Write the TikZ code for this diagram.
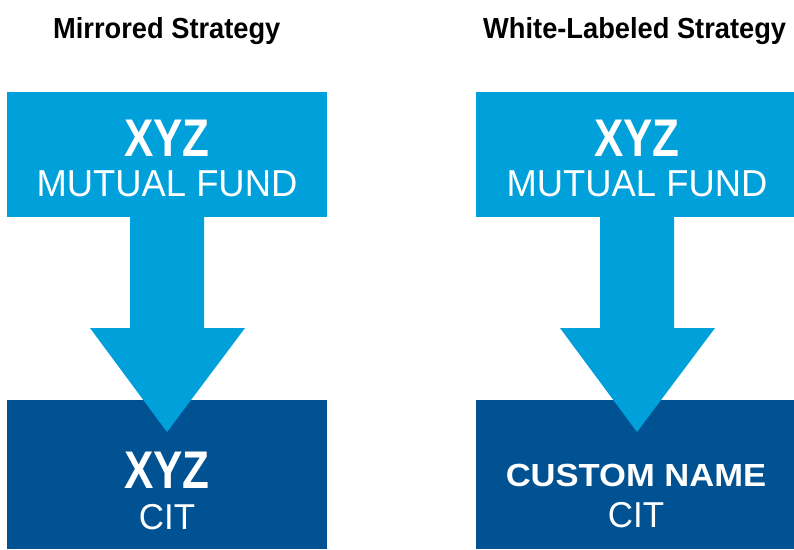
\documentclass[tikz,border=0pt]{standalone}
\usepackage{fontspec}
\setmainfont{Liberation Sans}
\newfontfamily\headfont[FakeStretch=0.94]{Liberation Sans}
\newfontfamily\bigfont[FakeStretch=0.83]{Liberation Sans}
\newfontfamily\subfont[FakeStretch=0.97]{Liberation Sans}
\newfontfamily\customfont[FakeStretch=1.08]{Liberation Sans}
\definecolor{lightblue}{RGB}{0,160,218}
\definecolor{darkblue}{RGB}{0,82,147}
\tikzset{
  heading/.style={anchor=base west, inner sep=0, font=\headfont\bfseries\fontsize{29}{29}\selectfont, text=black},
  bigname/.style={anchor=base, inner sep=0, text=white, font=\bigfont\bfseries\fontsize{53}{53}\selectfont},
  subname/.style={anchor=base, inner sep=0, text=white, font=\subfont\fontsize{37.5}{37.5}\selectfont},
  customname/.style={anchor=base, inner sep=0, text=white, font=\customfont\bfseries\fontsize{32}{32}\selectfont},
  citname/.style={anchor=base, inner sep=0, text=white, font=\subfont\fontsize{36}{36}\selectfont},
  boxbase/.style={rectangle, draw=none, inner sep=0, anchor=north west, minimum width=320pt},
  topbox/.style={boxbase, fill=lightblue, minimum height=125pt},
  botbox/.style={boxbase, fill=darkblue, minimum height=149pt},
  blockarrow/.style={fill=lightblue, draw=none}
}
\begin{document}
\begin{tikzpicture}[x=1pt,y=-1pt]
\useasboundingbox (0,0) rectangle (794,549);
% headings
\node[heading] (h1) at (53,38) {Mirrored Strategy};
\node[heading] (h2) at (483,38) {White-Labeled Strategy};
% boxes
\node[topbox] (lt) at (7,92) {};
\node[botbox] (lb) at (7,400) {};
\node[topbox] (rt) at (476,92) {};
\node[botbox] (rb) at (476,400) {};
% arrows
\path[blockarrow] (130,210) -- (204,210) -- (204,328) -- (245,328) -- (167,432) -- (90,328) -- (130,328) -- cycle;
\path[blockarrow] (600,210) -- (674,210) -- (674,328) -- (715,328) -- (637,432) -- (560,328) -- (600,328) -- cycle;
% left texts
\node[bigname] (l1) at (167,156) {XYZ};
\node[subname] (l2) at (167,196) {MUTUAL FUND};
\node[bigname] (l3) at (167,488) {XYZ};
\node[citname] (l4) at (167,529) {CIT};
% right texts
\node[bigname] (r1) at (637,156) {XYZ};
\node[subname] (r2) at (637,196) {MUTUAL FUND};
\node[customname] (r3) at (636,486) {CUSTOM NAME};
\node[citname] (r4) at (636,527) {CIT};
\end{tikzpicture}
\end{document}
